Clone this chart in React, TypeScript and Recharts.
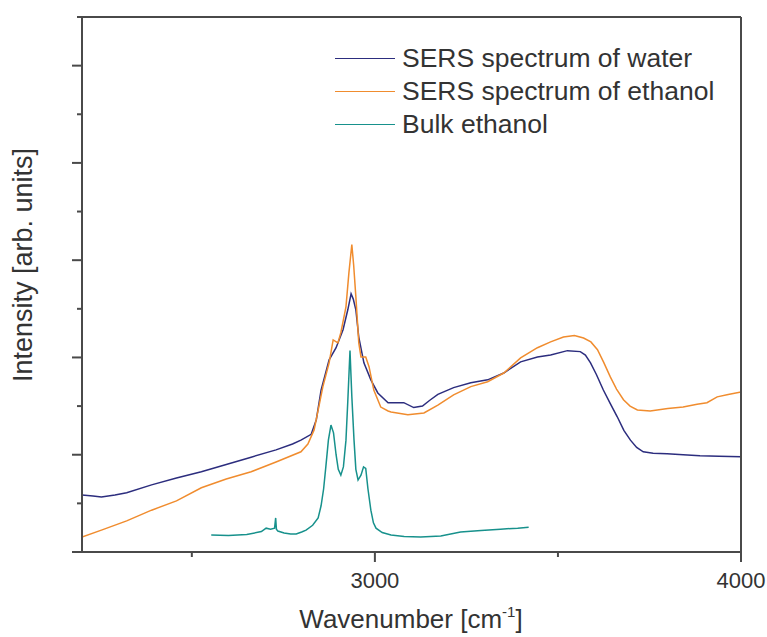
import React from "react";
import { LineChart, Line, XAxis, YAxis, Legend } from "recharts";

// SERS spectrum of water
const waterWn = [2200, 2230, 2253, 2290, 2322, 2390, 2458, 2526, 2594, 2662, 2730, 2775, 2798, 2826, 2840, 2853, 2875, 2894, 2913, 2926, 2935, 2941, 2948, 2956, 2970, 2989, 3008, 3036, 3079, 3106, 3130, 3150, 3172, 3215, 3262, 3308, 3352, 3398, 3444, 3480, 3526, 3561, 3575, 3589, 3605, 3624, 3643, 3662, 3680, 3698, 3715, 3733, 3760, 3798, 3842, 3888, 3940, 4000];
const waterI = [1.17, 1.15, 1.13, 1.17, 1.22, 1.38, 1.52, 1.65, 1.8, 1.95, 2.1, 2.22, 2.3, 2.42, 2.72, 3.33, 3.95, 4.2, 4.57, 4.98, 5.31, 5.2, 4.98, 4.42, 3.89, 3.54, 3.27, 3.07, 3.07, 2.97, 3.0, 3.12, 3.24, 3.38, 3.48, 3.54, 3.68, 3.91, 4.01, 4.05, 4.14, 4.12, 4.05, 3.89, 3.65, 3.33, 3.05, 2.78, 2.5, 2.3, 2.15, 2.06, 2.03, 2.02, 2.0, 1.98, 1.97, 1.96];

// SERS spectrum of ethanol
const ethanolWn = [2200, 2253, 2322, 2390, 2458, 2526, 2594, 2662, 2730, 2798, 2817, 2834, 2858, 2875, 2886, 2899, 2907, 2921, 2929, 2937, 2942, 2948, 2956, 2962, 2975, 2984, 2997, 3016, 3036, 3044, 3090, 3134, 3172, 3215, 3262, 3308, 3352, 3398, 3444, 3480, 3515, 3545, 3570, 3590, 3608, 3625, 3643, 3660, 3679, 3697, 3717, 3752, 3800, 3842, 3880, 3907, 3935, 3965, 4000];
const ethanolI = [0.31, 0.45, 0.64, 0.86, 1.05, 1.32, 1.5, 1.65, 1.85, 2.06, 2.22, 2.51, 3.4, 3.89, 4.36, 4.3, 4.51, 5.04, 5.74, 6.32, 5.9, 5.25, 4.3, 4.01, 4.01, 3.81, 3.33, 2.98, 2.9, 2.88, 2.82, 2.86, 3.02, 3.23, 3.4, 3.5, 3.68, 3.99, 4.2, 4.32, 4.42, 4.45, 4.4, 4.32, 4.16, 3.9, 3.6, 3.35, 3.13, 3.0, 2.92, 2.9, 2.95, 2.98, 3.04, 3.07, 3.19, 3.24, 3.29];

// Bulk ethanol
const bulkWn = [2553, 2600, 2650, 2690, 2703, 2715, 2726, 2729, 2731, 2735, 2752, 2770, 2785, 2800, 2812, 2830, 2845, 2853, 2860, 2866, 2873, 2880, 2887, 2894, 2900, 2907, 2914, 2921, 2926, 2932, 2937, 2943, 2948, 2954, 2962, 2969, 2975, 2981, 2989, 2996, 3003, 3020, 3044, 3080, 3125, 3180, 3234, 3290, 3343, 3390, 3420];
const bulkI = [0.35, 0.34, 0.36, 0.42, 0.49, 0.47, 0.49, 0.7, 0.47, 0.43, 0.39, 0.37, 0.37, 0.41, 0.45, 0.55, 0.7, 0.95, 1.3, 1.75, 2.3, 2.61, 2.45, 2.0, 1.7, 1.58, 1.75, 2.3, 3.1, 4.14, 3.2, 2.3, 1.7, 1.48, 1.58, 1.75, 1.72, 1.3, 0.86, 0.6, 0.49, 0.4, 0.35, 0.32, 0.31, 0.33, 0.41, 0.44, 0.47, 0.49, 0.51];

const xTicks = [2500, 3000, 3500, 4000];
const xLabeled = [3000, 4000];
const yTicks = [0, 1, 2, 3, 4, 5, 6, 7, 8, 9, 10, 11];

const seriesNames = ["SERS spectrum of water", "SERS spectrum of ethanol", "Bulk ethanol"];
const seriesColors = ["#2c2d7e", "#f08c2e", "#17918c"];

const toRows = (wn: number[], v: number[]) => wn.map((w, i) => ({ wn: w, v: v[i] }));
const waterData = toRows(waterWn, waterI);
const ethanolData = toRows(ethanolWn, ethanolI);
const bulkData = toRows(bulkWn, bulkI);

const FONT = "'Liberation Sans', Arial, sans-serif";
const AXIS = "#4a4a4a";

const XTick = (props: any) => {
  const { x, y, payload } = props;
  const major = xLabeled.includes(payload.value);
  return (
    <g>
      <line x1={x} x2={x} y1={y} y2={y + (major ? 10 : 5)} stroke={AXIS} strokeWidth={2} />
      {major && (
        <text x={x} y={y + 20} dy="0.71em" textAnchor="middle" fontSize={22} fontFamily={FONT} fill="#333">
          {payload.value}
        </text>
      )}
    </g>
  );
};

const YTick = (props: any) => {
  const { x, y, payload } = props;
  const major = payload.value % 2 === 0;
  return <line x1={x} x2={x - (major ? 10 : 5)} y1={y} y2={y} stroke={AXIS} strokeWidth={2} />;
};

const XTitle = () => (
  <text x={411} y={628} textAnchor="middle" fontSize={26} fontFamily={FONT} fill="#333">
    Wavenumber [cm
    <tspan fontSize={15} dy={-11}>-1</tspan>
    <tspan dy={11}>]</tspan>
  </text>
);

const YTitle = () => (
  <text x={32} y={265} transform="rotate(-90 32 265)" textAnchor="middle" fontSize={27} fontFamily={FONT} fill="#333">
    Intensity [arb. units]
  </text>
);

const renderLegend = () => (
  <div style={{ fontFamily: FONT }}>
    {seriesNames.map((n, i) => (
      <div key={n} style={{ display: "flex", alignItems: "center", height: 33 }}>
        <div style={{ width: 60, height: 1.5, background: seriesColors[i] }} />
        <span style={{ marginLeft: 7, fontSize: 26.5, color: "#333", whiteSpace: "nowrap", lineHeight: "33px" }}>{n}</span>
      </div>
    ))}
  </div>
);

export default function App() {
  return (
    <div style={{ position: "absolute", left: 0, top: 0, width: 767, height: 637, background: "#fff" }}>
      <LineChart width={767} height={637} margin={{ top: 16, right: 25, bottom: 0, left: 0 }}>
        <XAxis
          dataKey="wn"
          type="number"
          domain={[2200, 4000]}
          allowDataOverflow
          ticks={xTicks}
          interval={0}
          height={85}
          tickLine={false}
          tickSize={0}
          tickMargin={0}
          tick={<XTick />}
          axisLine={{ stroke: AXIS, strokeWidth: 2 }}
          label={<XTitle />}
        />
        <XAxis xAxisId="top" orientation="top" dataKey="wn" type="number" domain={[2200, 4000]} allowDataOverflow height={1} tick={false} tickLine={false} axisLine={{ stroke: AXIS, strokeWidth: 2 }} />
        <YAxis
          type="number"
          domain={[0, 11]}
          allowDataOverflow
          ticks={yTicks}
          interval={0}
          width={82}
          tickLine={false}
          tickSize={0}
          tickMargin={0}
          tick={<YTick />}
          axisLine={{ stroke: AXIS, strokeWidth: 2 }}
          label={<YTitle />}
        />
        <YAxis yAxisId="right" orientation="right" type="number" domain={[0, 11]} allowDataOverflow width={1} tick={false} tickLine={false} axisLine={{ stroke: AXIS, strokeWidth: 2 }} />
        <Legend
          layout="vertical"
          align="center"
          verticalAlign="middle"
          content={renderLegend}
          wrapperStyle={{ position: "absolute", left: 335, top: 42, width: "auto", height: "auto" }}
        />
        <Line data={waterData} dataKey="v" name={seriesNames[0]} type="linear" stroke={seriesColors[0]} strokeWidth={1.5} dot={false} isAnimationActive={false} />
        <Line data={ethanolData} dataKey="v" name={seriesNames[1]} type="linear" stroke={seriesColors[1]} strokeWidth={1.5} dot={false} isAnimationActive={false} />
        <Line data={bulkData} dataKey="v" name={seriesNames[2]} type="linear" stroke={seriesColors[2]} strokeWidth={1.5} dot={false} isAnimationActive={false} />
      </LineChart>
    </div>
  );
}
